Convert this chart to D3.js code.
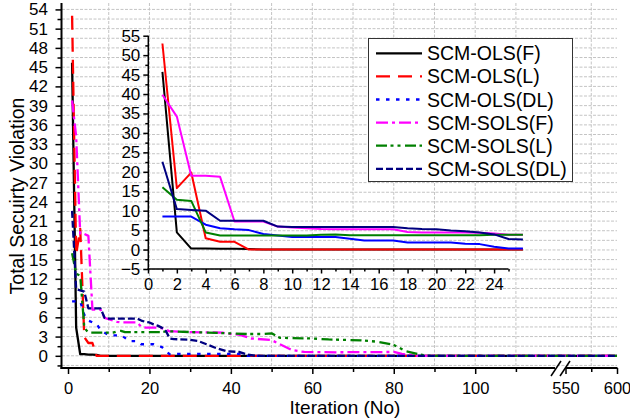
<!DOCTYPE html>
<html>
<head>
<meta charset="utf-8">
<script src="https://cdn.jsdelivr.net/npm/d3@7"></script>
<style>
  html, body { margin: 0; padding: 0; background: #fff; }
  svg { display: block; font-family: "Liberation Sans", Arial, sans-serif; }
</style>
</head>
<body>
<svg id="chart" width="630" height="418"></svg>
<script>
// Convergence of the total security violation per iteration, [iteration, value]
const olsF = [[1,45.7],[2,4.4],[3,0.25],[4,0.25],[5,0.2],[6,0.2],[7,0.15],[8,0],[26,0],[600,0]];
const olsL = [[1,53],[2,15.8],[3,19.8],[4,2.9],[5,2.0],[6,2.0],[7,0],[26,0],[600,0]];
const olsDL = [[1,8.5],[2,8.5],[3,8.5],[4,6.4],[5,5.5],[6,5.2],[7,5.0],[8,4.0],[9,3.6],[10,3.2],
  [11,3.2],[12,3.2],[13,3.2],[14,2.8],[15,2.3],[16,2.3],[17,2.3],[18,1.8],[19,1.8],[20,1.8],
  [21,1.8],[22,1.5],[23,1.4],[24,0.7],[25,0.25],[26,0.3],[42,0.3],[44,0],[600,0]];
const solsF = [[1,39.8],[2,34.2],[3,19.0],[4,19.0],[5,18.7],[6,7.2],[7,7.2],[8,7.2],[9,5.9],[10,5.7],
  [11,5.5],[12,5.3],[13,5.2],[14,5.2],[15,5.2],[16,5.2],[17,5.2],[18,4.5],[19,4.4],[20,4.4],
  [21,4.4],[22,4.4],[23,4.3],[24,4.1],[25,3.8],[26,3.8],[30,3.7],[38,3.6],[40,3.4],[42,3.3],
  [45,2.7],[50,2.45],[55,0.9],[58,0.6],[66,0.55],[80,0.6],[82,0.3],[86,0],[600,0]];
const solsL = [[1,16.0],[2,12.8],[3,12.5],[4,4.4],[5,3.6],[6,3.6],[7,3.6],[8,3.6],[9,3.6],[10,3.6],
  [11,3.6],[12,3.8],[13,3.9],[14,3.7],[15,3.7],[16,3.7],[17,3.7],[18,3.7],[19,3.7],[20,3.7],
  [21,3.7],[22,3.7],[23,3.7],[24,3.8],[25,3.8],[26,3.8],[30,3.7],[40,3.5],[44,3.4],[48,3.4],
  [50,3.5],[52,2.8],[60,2.7],[64,2.55],[72,2.4],[76,2.2],[80,1.7],[83,0.7],[88,0],[600,0]];
const solsDL = [[1,22.6],[2,10.4],[3,10.2],[4,10.0],[5,7.4],[6,7.4],[7,7.4],[8,7.4],[9,5.9],[10,5.8],
  [11,5.8],[12,5.8],[13,5.8],[14,5.8],[15,5.8],[16,5.8],[17,5.8],[18,5.5],[19,5.3],[20,5.2],
  [21,4.9],[22,4.7],[23,4.4],[24,3.9],[25,2.7],[26,2.6],[30,2.5],[32,2.3],[34,1.8],[36,1.3],
  [39,0.7],[42,0.6],[44,0.2],[46,0],[600,0]];

const seriesNames = ["SCM-OLS(F)", "SCM-OLS(L)", "SCM-OLS(DL)", "SCM-SOLS(F)", "SCM-SOLS(L)", "SCM-SOLS(DL)"];
const seriesData = [olsF, olsL, olsDL, solsF, solsL, solsDL];
const colors = ["#000000", "#ff0000", "#0000ff", "#ff00ff", "#008000", "#000080"];
const dashes = ["none", "14,8", "3.5,6.5", "12,4,3,4", "11,3.5,3,4,3,4.5", "7,3"];

// Main axis tick values (x axis is broken between 120 and 550)
const xMajorTicks = [0, 20, 40, 60, 80, 100, 550, 600];
const xMinorTicks = [10, 30, 50, 70, 90, 110, 575];
const yMajorTicks = d3.range(0, 55, 3);
const yMinorTicks = d3.range(-1.5, 55, 3);
// Inset axis tick values
const inXMajorTicks = d3.range(0, 25, 2);
const inXMinorTicks = d3.range(1, 26, 2);
const inYMajorTicks = d3.range(-5, 56, 5);
const inYMinorTicks = d3.range(-2.5, 55, 5);

const svg = d3.select("#chart");
const FONT = 16.5;

// Piecewise scale gives the broken x axis
const x = d3.scaleLinear().domain([-1.6, 119.6, 550, 600]).range([61.5, 555, 565.5, 617]);
const y = d3.scaleLinear().domain([-1.9, 55]).range([368, 3]);
const xi = d3.scaleLinear().domain([0, 25]).range([148, 508.5]);
const yi = d3.scaleLinear().domain([-5, 55]).range([269, 35.7]);

// Grid
const grid = svg.append("g").attr("stroke", "#c4c4c4").attr("stroke-width", 1).attr("stroke-dasharray", "3,1.5");
d3.range(-1.5, 55, 1.5).forEach(v => {
  grid.append("line").attr("x1", 62).attr("x2", 617).attr("y1", y(v)).attr("y2", y(v));
});
[10, 20, 30, 40, 50, 60, 70, 80, 90, 100, 110, 575].forEach(v => {
  grid.append("line").attr("x1", x(v)).attr("x2", x(v)).attr("y1", 3).attr("y2", 368);
});

// Main series
const lineMain = d3.line().x(d => x(d[0])).y(d => y(d[1]));
seriesData.forEach((s, i) => {
  svg.append("path").datum(s).attr("d", lineMain)
    .attr("fill", "none").attr("stroke", colors[i]).attr("stroke-width", 2.3)
    .attr("stroke-dasharray", dashes[i]).attr("stroke-linejoin", "round");
});

// Main axes
function styleAxis(g, fontSize) {
  g.select(".domain").remove();
  g.selectAll(".tick line").attr("stroke", "#000").attr("stroke-width", 1.5);
  g.selectAll(".tick text").attr("fill", "#000").attr("font-size", fontSize)
    .attr("font-family", "'Liberation Sans', Arial, sans-serif");
}
const gx = svg.append("g").attr("transform", "translate(0,368)")
  .call(d3.axisBottom(x).tickValues(xMajorTicks).tickSize(6).tickPadding(8).tickFormat(d3.format("d")));
styleAxis(gx, FONT);
const gxm = svg.append("g").attr("transform", "translate(0,368)")
  .call(d3.axisBottom(x).tickValues(xMinorTicks).tickSize(4).tickFormat(""));
styleAxis(gxm, FONT);
const gy = svg.append("g").attr("transform", "translate(61.5,0)")
  .call(d3.axisLeft(y).tickValues(yMajorTicks).tickSize(6).tickPadding(7.5).tickFormat(d3.format("d")));
styleAxis(gy, 17);
const gym = svg.append("g").attr("transform", "translate(61.5,0)")
  .call(d3.axisLeft(y).tickValues(yMinorTicks).tickSize(4).tickFormat(""));
styleAxis(gym, 17);

// Axis lines with the break marks
const axisLines = svg.append("g").attr("stroke", "#000").attr("stroke-width", 2);
axisLines.append("line").attr("x1", 61.5).attr("x2", 61.5).attr("y1", 3).attr("y2", 369);
axisLines.append("line").attr("x1", 60.5).attr("x2", x(119.6)).attr("y1", 368).attr("y2", 368);
axisLines.append("line").attr("x1", x(550)).attr("x2", 617.5).attr("y1", 368).attr("y2", 368);
[x(119.6) + 1, x(550) - 0.5].forEach(cx => {
  svg.append("line").attr("x1", cx - 5).attr("y1", 376).attr("x2", cx + 5).attr("y2", 361)
    .attr("stroke", "#000").attr("stroke-width", 1.5);
});

// Axis titles
svg.append("text").attr("x", 345).attr("y", 414.3).attr("text-anchor", "middle")
  .attr("font-size", 19).text("Iteration (No)");
svg.append("text").attr("transform", "translate(24,196) rotate(-90)").attr("text-anchor", "middle")
  .attr("font-size", 19.5).text("Total Secuirty Violation");

// Inset: first iterations in detail
const inset = svg.append("g");
const lineIn = d3.line().x(d => xi(d[0])).y(d => yi(d[1]));
seriesData.forEach((s, i) => {
  inset.append("path").datum(s.filter(d => d[0] <= 26)).attr("d", lineIn)
    .attr("fill", "none").attr("stroke", colors[i]).attr("stroke-width", 2)
    .attr("stroke-linejoin", "round");
});
const gix = inset.append("g").attr("transform", "translate(0,269)")
  .call(d3.axisBottom(xi).tickValues(inXMajorTicks).tickSize(4.5).tickPadding(5).tickFormat(d3.format("d")));
styleAxis(gix, FONT);
const gixm = inset.append("g").attr("transform", "translate(0,269)")
  .call(d3.axisBottom(xi).tickValues(inXMinorTicks).tickSize(2.5).tickFormat(""));
styleAxis(gixm, FONT);
const giy = inset.append("g").attr("transform", "translate(148.3,0)")
  .call(d3.axisLeft(yi).tickValues(inYMajorTicks).tickSize(5).tickPadding(3).tickFormat(d3.format("d")));
styleAxis(giy, 17);
const giym = inset.append("g").attr("transform", "translate(148.3,0)")
  .call(d3.axisLeft(yi).tickValues(inYMinorTicks).tickSize(3).tickFormat(""));
styleAxis(giym, 17);
inset.append("line").attr("x1", 148.3).attr("x2", 148.3).attr("y1", yi(55)).attr("y2", 269.7)
  .attr("stroke", "#000").attr("stroke-width", 1.5);
inset.append("line").attr("x1", 147.5).attr("x2", xi(25)).attr("y1", 269).attr("y2", 269)
  .attr("stroke", "#000").attr("stroke-width", 1.5);

// Legend
const legend = svg.append("g");
legend.append("rect").attr("x", 368.5).attr("y", 38.5).attr("width", 204).attr("height", 143)
  .attr("fill", "#fff").attr("stroke", "#333").attr("stroke-width", 1);
seriesNames.forEach((name, i) => {
  const cy = 53.3 + i * 23.1;
  legend.append("line").attr("x1", 376).attr("x2", 422).attr("y1", cy).attr("y2", cy)
    .attr("stroke", colors[i]).attr("stroke-width", 2.3).attr("stroke-dasharray", dashes[i]);
  legend.append("text").attr("x", 427).attr("y", cy + 7).attr("font-size", 19.5).text(name);
});
</script>
</body>
</html>
